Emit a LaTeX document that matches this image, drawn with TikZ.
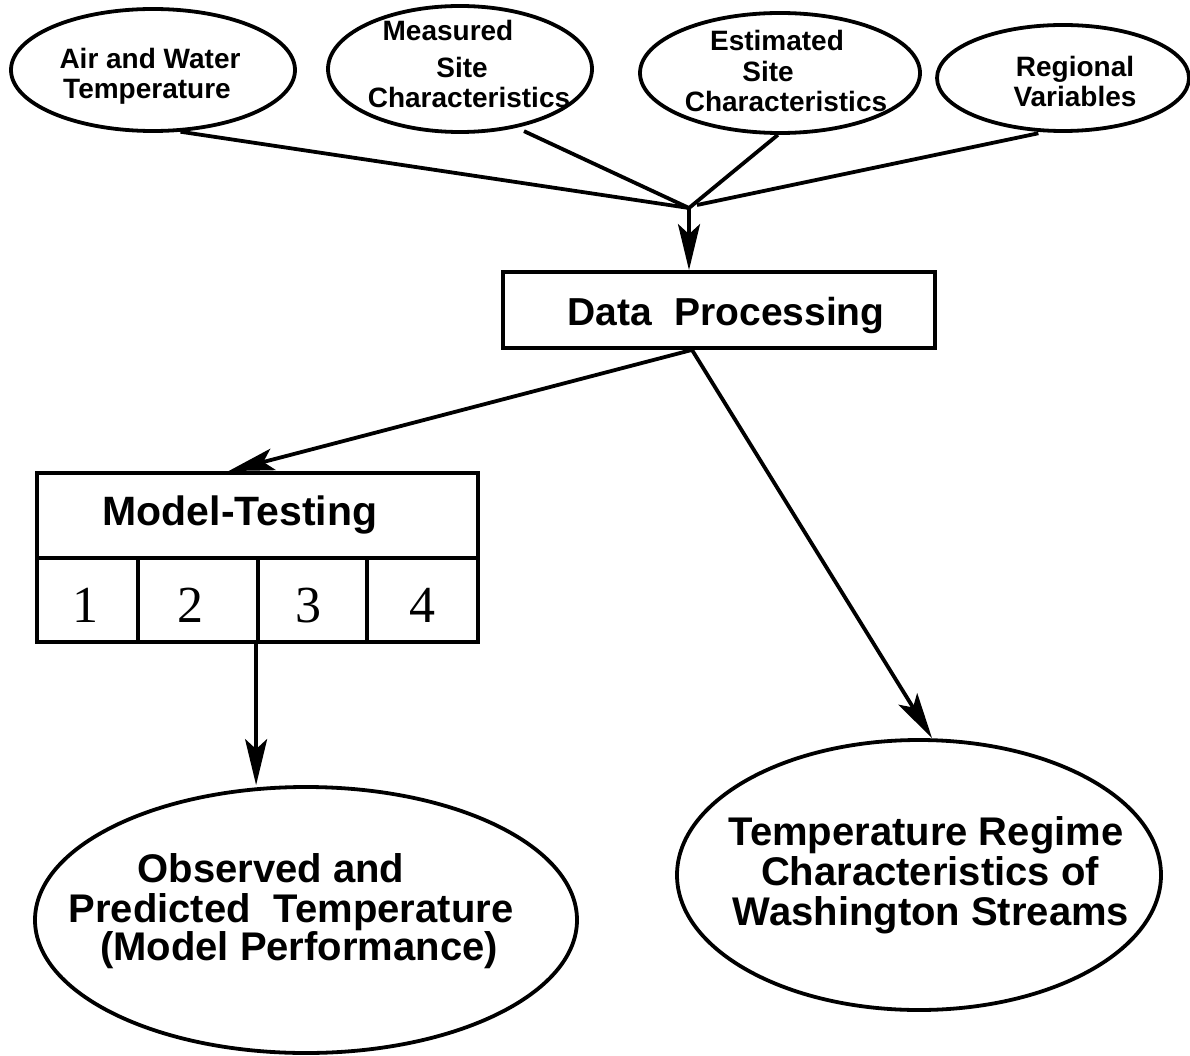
\documentclass[tikz,border=0pt]{standalone}
\usepackage{fontspec}
\setmainfont{Liberation Sans}
\newfontfamily\numfont{Liberation Serif}
\usetikzlibrary{shapes.geometric,arrows.meta}
\tikzset{
  oval/.style={draw, ellipse, inner sep=0pt},
  smalltext/.style={font=\fontsize{28}{31}\selectfont\bfseries, inner sep=0pt, anchor=base},
  bigtext/.style={font=\fontsize{40}{40}\selectfont\bfseries, inner sep=0pt, anchor=base},
  boxed/.style={draw, rectangle, inner sep=0pt},
  numtext/.style={font=\fontsize{52}{52}\selectfont\numfont, inner sep=0pt, anchor=base},
  arr/.style={-{Stealth[length=46pt,width=22pt,inset=10pt]}},
}
\begin{document}
\begin{tikzpicture}[x=1pt,y=-1pt,line width=3.8pt]
\useasboundingbox (0,0) rectangle (1190,1056);
% top ellipses
\node[oval, minimum width=284, minimum height=122] (e1) at (153,70) {};
\node[smalltext] (t1a) at (150,69) {Air and Water};
\node[smalltext] (t1b) at (147,99) {Temperature};
\node[oval, minimum width=264, minimum height=126] (e2) at (460,69) {};
\node[smalltext] (t2a) at (448,41) {Measured};
\node[smalltext] (t2b) at (462,78) {Site};
\node[smalltext] (t2c) at (469,108) {Characteristics};
\node[oval, minimum width=280, minimum height=120] (e3) at (780,73) {};
\node[smalltext] (t3a) at (777,51) {Estimated};
\node[smalltext] (t3b) at (768,82) {Site};
\node[smalltext] (t3c) at (786,112) {Characteristics};
\node[oval, minimum width=252, minimum height=106] (e4) at (1063,78) {};
\node[smalltext] (t4a) at (1075,77) {Regional};
\node[smalltext] (t4b) at (1075,107) {Variables};
% junction
\coordinate (J) at (689,208);
\draw (e1.-66) -- (J);
\draw[shorten <=8pt] (e2.-46) -- (J);
\draw (e3.-92) -- (J);
\draw[shorten <=5pt] (e4.-110) -- ([xshift=8pt,yshift=3pt]J);
% data processing
\node[boxed, minimum width=432, minimum height=76] (dp) at (719,310) {};
\node[bigtext, font=\fontsize{39}{39}\selectfont\bfseries] (dpt) at (726,325) {Data\hspace{0.3em} Processing};
\draw[arr] (J) -- (J |- dp.north);
% model testing
\node[boxed, minimum width=441, minimum height=85] (mt) at (257.5,515.5) {};
\node[bigtext, font=\fontsize{41}{41}\selectfont\bfseries] (mtt) at (240,525) {Model-Testing};
\node[boxed, minimum width=101, minimum height=84] (m1) at (87.5,600) {};
\node[boxed, minimum width=120, minimum height=84] (m2) at (198,600) {};
\node[boxed, minimum width=109, minimum height=84] (m3) at (312.5,600) {};
\node[boxed, minimum width=111, minimum height=84] (m4) at (422.5,600) {};
\node[numtext] (n1) at (85,622) {1};
\node[numtext] (n2) at (190,622) {2};
\node[numtext] (n3) at (308,622) {3};
\node[numtext] (n4) at (422,622) {4};
% bottom ellipses
\node[oval, minimum width=542, minimum height=266] (ob) at (306,920) {};
\node[bigtext] (ob1) at (271,882) {Observed and};
\node[bigtext] (ob2) at (291,922) {Predicted\hspace{0.3em} Temperature};
\node[bigtext] (ob3) at (299,960) {(Model Performance)};
\node[oval, minimum width=484, minimum height=270] (tr) at (919,875) {};
\node[bigtext] (tr1) at (926,845) {Temperature Regime};
\node[bigtext] (tr2) at (930,885) {Characteristics of};
\node[bigtext] (tr3) at (931,925) {Washington Streams};
% arrows from data processing
\coordinate (dpo) at ([xshift=-27pt]dp.south);
\draw[arr] (dpo) -- ([xshift=-29pt]mt.north);
\draw[arr] (dpo) -- ([xshift=13pt]tr.north);
\draw[arr] (m3.south west) -- (m3.south west |- ob.north);
\end{tikzpicture}
\end{document}
